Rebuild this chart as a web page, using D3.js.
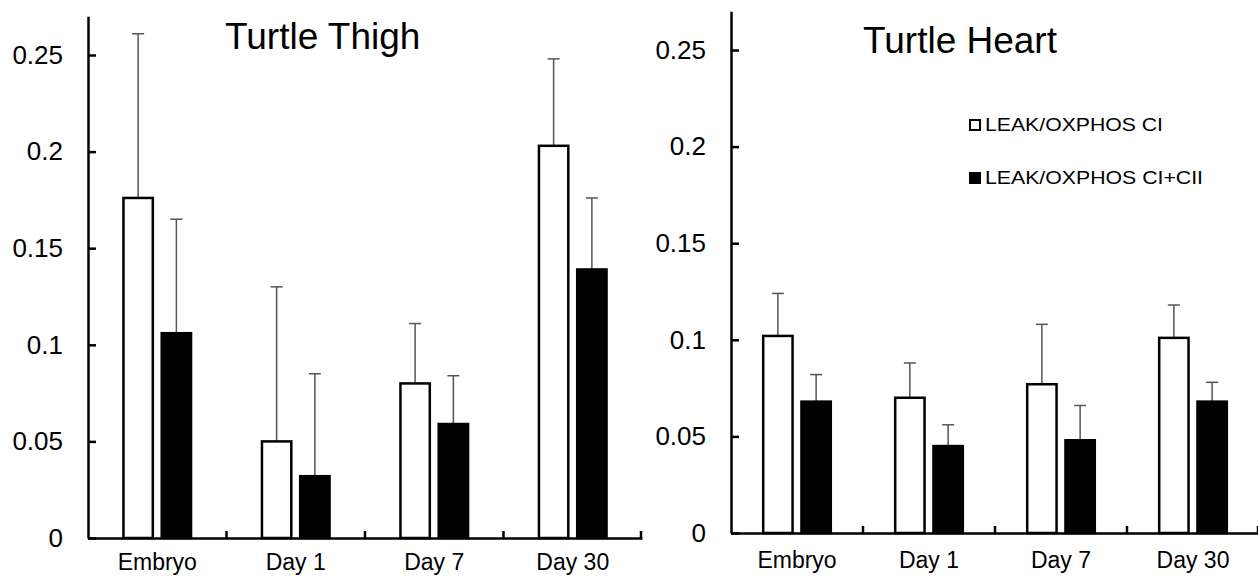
<!DOCTYPE html>
<html>
<head>
<meta charset="utf-8">
<script src="https://cdn.jsdelivr.net/npm/d3@7"></script>
<style>
  body { margin: 0; background: #fff; }
  svg { display: block; font-family: "Liberation Sans", Arial, sans-serif; }
</style>
</head>
<body>
<div id="chart"></div>
<script>
// Values
const categories = ["Embryo", "Day 1", "Day 7", "Day 30"];
const seriesNames = ["LEAK/OXPHOS CI", "LEAK/OXPHOS CI+CII"];

const thighCI = [0.176, 0.050, 0.080, 0.203];
const thighCIerr = [0.085, 0.080, 0.031, 0.045];
const thighCII = [0.106, 0.032, 0.059, 0.139];
const thighCIIerr = [0.059, 0.053, 0.025, 0.037];

const heartCI = [0.102, 0.070, 0.077, 0.101];
const heartCIerr = [0.022, 0.018, 0.031, 0.017];
const heartCII = [0.068, 0.045, 0.048, 0.068];
const heartCIIerr = [0.014, 0.011, 0.018, 0.010];

const yTicks = [0, 0.05, 0.1, 0.15, 0.2, 0.25];
const yTickLabels = ["0", "0.05", "0.1", "0.15", "0.2", "0.25"];

const width = 1258;
const height = 577;

const svg = d3.select("#chart")
  .append("svg")
  .attr("width", width)
  .attr("height", height);

// one panel = one small bar chart with its own axes
function drawPanel(p) {
  const g = svg.append("g");

  let y = d3.scaleLinear()
    .domain([0, 0.27])
    .range([p.y0, p.y0 - 0.27 * 1932]);

  let x = d3.scaleBand()
    .domain(categories)
    .range([p.x0, p.x1])
    .padding(0);

  const bw = x.bandwidth();
  let xSub = d3.scaleBand()
    .domain([0, 1])
    .range([bw / 2 - 35, bw / 2 + 35])
    .paddingInner(0.17);

  // rows: one per bar
  const rows = [];
  categories.forEach((c, i) => {
    rows.push({cat: c, s: 0, v: p.ci[i], e: p.ciErr[i]});
    rows.push({cat: c, s: 1, v: p.cii[i], e: p.ciiErr[i]});
  });

  // error bars (upper only), drawn under the bars
  const eb = g.selectAll(".err")
    .data(rows)
    .enter()
    .append("g")
    .attr("class", "err")
    .attr("stroke", "#555")
    .attr("stroke-width", 1.5);
  eb.append("line")
    .attr("x1", d => x(d.cat) + xSub(d.s) + xSub.bandwidth() / 2)
    .attr("x2", d => x(d.cat) + xSub(d.s) + xSub.bandwidth() / 2)
    .attr("y1", d => y(d.v))
    .attr("y2", d => y(d.v + d.e));
  eb.append("line")
    .attr("x1", d => x(d.cat) + xSub(d.s) + xSub.bandwidth() / 2 - 6)
    .attr("x2", d => x(d.cat) + xSub(d.s) + xSub.bandwidth() / 2 + 6)
    .attr("y1", d => y(d.v + d.e))
    .attr("y2", d => y(d.v + d.e));

  // bars
  g.selectAll(".bar")
    .data(rows)
    .enter()
    .append("rect")
    .attr("class", "bar")
    .attr("x", d => x(d.cat) + xSub(d.s) + 1.2)
    .attr("y", d => y(d.v))
    .attr("width", xSub.bandwidth() - 2.4)
    .attr("height", d => y(0) - y(d.v))
    .attr("fill", d => d.s === 0 ? "#fff" : "#000")
    .attr("stroke", "#000")
    .attr("stroke-width", 2.5);

  // y axis, ticks pointing into the plot
  const yAxis = g.append("g")
    .attr("transform", `translate(${p.x0},0)`)
    .call(d3.axisLeft(y)
      .tickValues(yTicks)
      .tickFormat((d, i) => yTickLabels[i])
      .tickSizeInner(-8)
      .tickSizeOuter(0)
      .tickPadding(25));
  yAxis.selectAll("path, line").attr("stroke", "#000").attr("stroke-width", 2.5);
  yAxis.selectAll("text")
    .attr("font-size", "26px")
    .attr("fill", "#000")
    .style("font-family", "'Liberation Sans', Arial, sans-serif");

  // x axis, labels at category centres
  const xAxis = g.append("g")
    .attr("transform", `translate(0,${p.y0})`)
    .call(d3.axisBottom(x).tickSize(0).tickSizeOuter(0).tickPadding(p.labelPad));
  xAxis.select(".domain").attr("stroke", "#000").attr("stroke-width", 2.5);
  xAxis.selectAll("text")
    .attr("font-size", "23px")
    .attr("fill", "#000")
    .style("font-family", "'Liberation Sans', Arial, sans-serif");

  // small upward ticks at category boundaries
  const bounds = categories.slice(1).map(c => x(c)).concat([p.x1 - 1]);
  g.selectAll(".bound")
    .data(bounds)
    .enter()
    .append("line")
    .attr("x1", d => d)
    .attr("x2", d => d)
    .attr("y1", p.y0)
    .attr("y2", p.y0 - 7)
    .attr("stroke", "#000")
    .attr("stroke-width", 2.5);

  // title
  g.append("text")
    .attr("x", p.titleX)
    .attr("y", p.titleY)
    .attr("font-size", "37px")
    .attr("fill", "#000")
    .text(p.title);
}

drawPanel({
  title: "Turtle Thigh", titleX: 225, titleY: 49,
  x0: 88, x1: 642, y0: 538, labelPad: 16,
  ci: thighCI, ciErr: thighCIerr, cii: thighCII, ciiErr: thighCIIerr
});

drawPanel({
  title: "Turtle Heart", titleX: 863, titleY: 53,
  x0: 731, x1: 1259, y0: 533, labelPad: 19,
  ci: heartCI, ciErr: heartCIerr, cii: heartCII, ciiErr: heartCIIerr
});

// legend
const legend = svg.append("g")
  .selectAll("g")
  .data(seriesNames)
  .enter()
  .append("g")
  .attr("transform", (d, i) => `translate(969,${119 + i * 53})`);
legend.append("rect")
  .attr("x", 1)
  .attr("y", 1)
  .attr("width", 10)
  .attr("height", 10)
  .attr("fill", (d, i) => i === 0 ? "#fff" : "#000")
  .attr("stroke", "#000")
  .attr("stroke-width", 2);
legend.append("text")
  .attr("x", 16)
  .attr("y", 12)
  .attr("font-size", "18px")
  .attr("fill", "#000")
  .attr("textLength", (d, i) => i === 0 ? 178 : 218)
  .attr("lengthAdjust", "spacingAndGlyphs")
  .text(d => d);
</script>
</body>
</html>
